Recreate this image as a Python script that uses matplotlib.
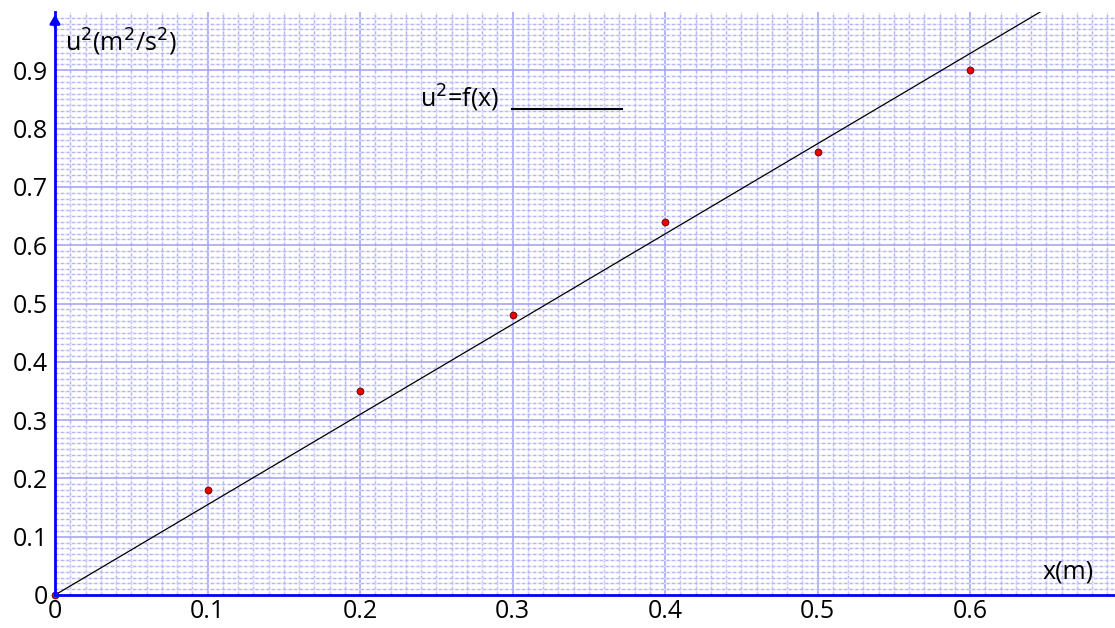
import matplotlib
matplotlib.use("Agg")
import matplotlib.pyplot as plt
import numpy as np
from matplotlib.ticker import MultipleLocator

x_data = [0.0, 0.1, 0.2, 0.3, 0.4, 0.5, 0.6]
u2_data = [0.0, 0.18, 0.35, 0.48, 0.64, 0.76, 0.90]
fit_x = [0.0, 0.646]
fit_y = [0.0, 1.0]
x_ticks = [0.1, 0.2, 0.3, 0.4, 0.5, 0.6]
x_tick_labels = ["0.1", "0.2", "0.3", "0.4", "0.5", "0.6"]
y_ticks = [0.1, 0.2, 0.3, 0.4, 0.5, 0.6, 0.7, 0.8, 0.9]
y_tick_labels = ["0.1", "0.2", "0.3", "0.4", "0.5", "0.6", "0.7", "0.8", "0.9"]

plt.rcParams['font.family'] = ['Open Sans', 'DejaVu Sans']

W, H = 1115, 628
fig = plt.figure(figsize=(W / 100, H / 100), dpi=100)
left_px, right_px, bottom_px, top_px = 55, 1115, 595, 12
ax = fig.add_axes([left_px / W, (H - bottom_px) / H, (right_px - left_px) / W, (bottom_px - top_px) / H])

xmax = (right_px - left_px) / 1525.0
ax.set_xlim(0, xmax)
ax.set_ylim(0, 1.0)

# grid
for v in np.arange(0.01, xmax, 0.01):
    k = round(v / 0.01)
    if k % 10 == 0:
        ax.axvline(v, color="#a5a5f5", lw=1.2, zorder=1)
    else:
        ax.axvline(v, color="#e4e4fb", lw=1.0, zorder=1)
        ax.axvline(v, color="#b4b4f7", lw=1.0, ls=(0, (2, 2)), zorder=1)
for v in np.arange(0.01, 1.0, 0.01):
    k = round(v / 0.01)
    if k % 10 == 0:
        ax.axhline(v, color="#a5a5f5", lw=1.2, zorder=1)
    else:
        ax.axhline(v, color="#e4e4fb", lw=1.0, zorder=1)
        ax.axhline(v, color="#b4b4f7", lw=1.0, ls=(0, (2, 2)), zorder=1)

ax.set_xticks([0] + x_ticks)
ax.set_xticklabels(["0"] + x_tick_labels)
ax.set_yticks([0] + y_ticks)
ax.set_yticklabels(["0"] + y_tick_labels)
ax.tick_params(axis="both", length=0, labelsize=18, colors="black")
ax.tick_params(axis="x", pad=3)
ax.tick_params(axis="y", pad=5)

for s in ["top", "right"]:
    ax.spines[s].set_visible(False)
for s in ["left", "bottom"]:
    ax.spines[s].set_color("#0000ff")
    ax.spines[s].set_linewidth(2)
    ax.spines[s].set_zorder(5)

# arrow on y-axis top
ax.annotate("", xy=(0, 1.0), xytext=(0, 0.97), xycoords="axes fraction",
            arrowprops=dict(arrowstyle="-|>,head_width=0.3,head_length=0.5", color="#0000ff", lw=2),
            annotation_clip=False, zorder=6)

ax.plot(fit_x, fit_y, color="black", lw=0.9, zorder=3)
ax.scatter(x_data, u2_data, s=24, color="#ee0000", edgecolors="#550000", linewidths=0.6, zorder=4, clip_on=False)

ax.text(0.0066, 0.948, "u$^2$(m$^2$/s$^2$)", fontsize=18, ha="left", va="center", zorder=6)
ax.text(0.6475, 0.04, "x(m)", fontsize=18, ha="left", va="center", zorder=6)
ax.text(0.2393, 0.852, "u$^2$=f(x)", fontsize=18, ha="left", va="center", zorder=6)
ax.plot([0.2997, 0.3718], [0.833, 0.833], color="black", lw=1.5, zorder=6)

fig.savefig("out.png", dpi=100)
